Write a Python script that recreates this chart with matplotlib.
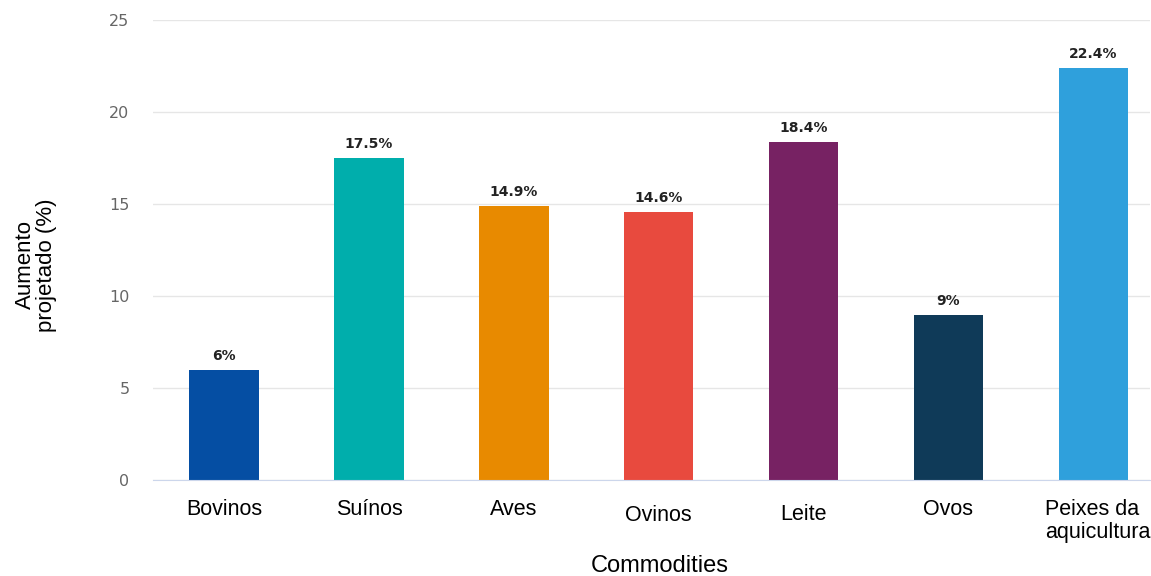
import matplotlib.pyplot as plt
import matplotlib.transforms as mtransforms

# data
categorias = ['Bovinos', 'Suínos', 'Aves', 'Ovinos', 'Leite', 'Ovos', 'Peixes da\naquicultura']
aumento = [6, 17.5, 14.9, 14.6, 18.4, 9, 22.4]
rotulos = ['6%', '17.5%', '14.9%', '14.6%', '18.4%', '9%', '22.4%']
cores = ['#054ea3', '#00aeac', '#e88a00', '#e84a3e', '#772263', '#0f3a58', '#2fa0dc']
yticks = [0, 5, 10, 15, 20, 25]

plt.rcParams['font.family'] = ['Liberation Sans', 'DejaVu Sans']

fig = plt.figure(figsize=(11.51, 5.76), dpi=100)
ax = fig.add_axes([0.133, 0.1667, 0.866, 0.798])

x = list(range(len(categorias)))
bars = ax.bar(x, aumento, width=0.48, color=cores, zorder=3)

for b, lab in zip(bars, rotulos):
    ax.annotate(lab, (b.get_x() + b.get_width() / 2, b.get_height()),
                xytext=(0, 5), textcoords='offset points',
                ha='center', va='bottom', fontsize=10, fontweight='bold',
                color='#222222', family='DejaVu Sans')

ax.set_xlim(-0.49, 6.39)
ax.set_ylim(0, 25)
ax.set_yticks(yticks)
ax.set_yticklabels([str(v) for v in yticks], family='DejaVu Sans',
                   fontsize=11.5, color='#666666')
ax.tick_params(axis='y', length=0, pad=17)
ax.yaxis.grid(True, color='#e6e6e6', linewidth=1, zorder=0)

ax.set_xticks(x)
ax.set_xticklabels(categorias, fontsize=15.5, color='black', linespacing=1.08)
ax.tick_params(axis='x', length=0, pad=14)
# some labels sit slightly lower in the original (pixels: dx, dy)
desloc = [(0, 0), (0, 0), (0, 0), (0, -6), (0, -5), (0, 0), (4, 0)]
for t, (dx, dy) in zip(ax.get_xticklabels(), desloc):
    t.set_transform(t.get_transform() + mtransforms.ScaledTranslation(dx / 100, dy / 100, fig.dpi_scale_trans))
ax.get_xticklabels()[-1].set_multialignment('left')

for s in ['top', 'right', 'left']:
    ax.spines[s].set_visible(False)
ax.spines['bottom'].set_color('#ccd6eb')
ax.spines['bottom'].set_zorder(4)

fig.text(660 / 1151, 1 - 566 / 576, 'Commodities', ha='center', va='center',
         fontsize=17)
fig.text(0.031, 0.54, 'Aumento\nprojetado (%)', rotation=90, ha='center',
         va='center', fontsize=16, linespacing=1.0)

fig.savefig('out.png', dpi=100)
